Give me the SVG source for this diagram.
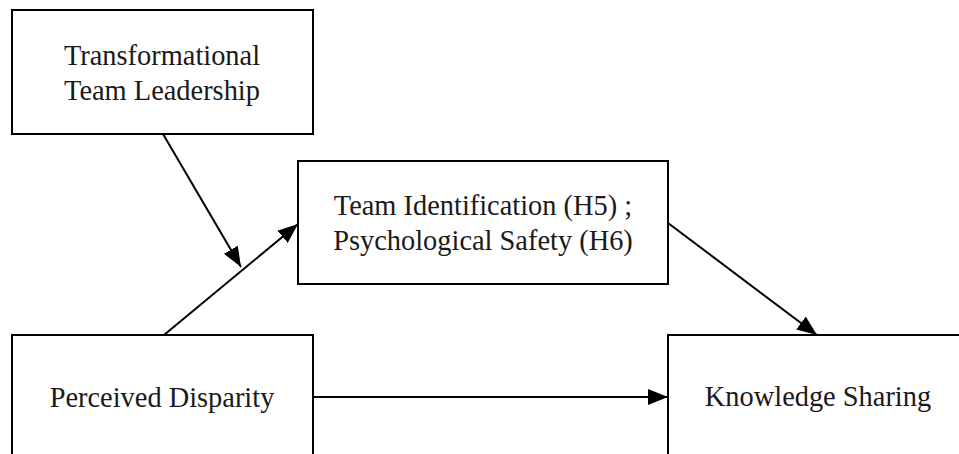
<svg xmlns="http://www.w3.org/2000/svg" width="959" height="454" viewBox="0 0 959 454">
<style>
.box{fill:#fff;stroke:#000;stroke-width:2}
.lbl{font-family:"Liberation Serif","Times New Roman","DejaVu Serif",serif;font-size:28.4px;fill:#1a1a1a;text-anchor:middle}
.con{stroke:#000;stroke-width:2;fill:none;marker-end:url(#ah)}
</style>
<defs>
<marker id="ah" markerUnits="userSpaceOnUse" markerWidth="22" markerHeight="16" refX="20" refY="8" orient="auto">
<path d="M0,0 L20,8 L0,16 Z" fill="#000"/>
</marker>
</defs>
<rect width="959" height="454" fill="#fff"/>
<g id="ttl">
<rect class="box" x="12" y="10" width="301" height="124"/>
<text class="lbl" x="162" y="65">Transformational</text>
<text class="lbl" x="162" y="100">Team Leadership</text>
</g>
<g id="mediator">
<rect class="box" x="298" y="161" width="370" height="123"/>
<text class="lbl" x="483" y="215">Team Identification (H5) ;</text>
<text class="lbl" x="483" y="250">Psychological Safety (H6)</text>
</g>
<g id="pd">
<rect class="box" x="12" y="335" width="301" height="130"/>
<text class="lbl" x="162" y="407">Perceived Disparity</text>
</g>
<g id="ks">
<rect class="box" x="668" y="335" width="302" height="130"/>
<text class="lbl" x="818" y="406">Knowledge Sharing</text>
</g>
<g id="connectors">
<line class="con" x1="163" y1="134" x2="241" y2="267"/>
<line class="con" x1="164" y1="335" x2="298" y2="224"/>
<line class="con" x1="668" y1="223" x2="817" y2="335"/>
<line class="con" x1="313" y1="397" x2="668" y2="397"/>
</g>
</svg>
